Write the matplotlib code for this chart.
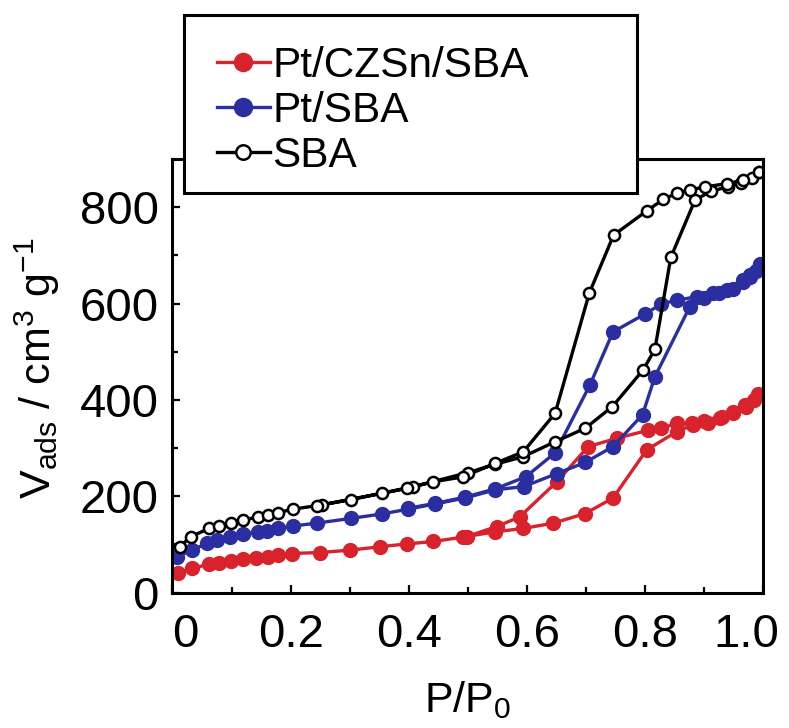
import matplotlib
matplotlib.use('Agg')
import matplotlib.pyplot as plt
import matplotlib.transforms as mtransforms
from matplotlib.patches import Rectangle
import numpy as np

plt.rcParams['font.family'] = ['Liberation Sans', 'DejaVu Sans']
plt.rcParams['mathtext.default'] = 'regular'

# SBA (open circles)
sba_ads_x = [0.012, 0.031, 0.062, 0.078, 0.099, 0.120, 0.144, 0.161, 0.179, 0.204, 0.253, 0.303,
             0.354, 0.408, 0.501, 0.546, 0.594, 0.648, 0.699, 0.745, 0.797, 0.817, 0.844, 0.885,
             0.912, 0.940, 0.962, 0.982, 0.993]
sba_ads_y = [95, 116, 133, 138, 145, 150, 157, 161, 166, 173, 182, 193,
             206, 220, 249, 266, 282, 313, 341, 386, 462, 505, 696, 815,
             833, 842, 850, 860, 872]
sba_des_x = [0.993, 0.967, 0.939, 0.902, 0.876, 0.854, 0.831, 0.804, 0.747, 0.706, 0.648, 0.594,
             0.546, 0.492, 0.442, 0.397, 0.244]
sba_des_y = [872, 856, 849, 842, 836, 829, 816, 793, 742, 622, 372, 292,
             268, 240, 230, 216, 180]

# Pt/SBA (blue)
ptsba_ads_x = [0.007, 0.033, 0.058, 0.075, 0.097, 0.120, 0.144, 0.160, 0.179, 0.204, 0.244, 0.303,
               0.354, 0.399, 0.445, 0.495, 0.546, 0.595, 0.651, 0.699, 0.746, 0.796, 0.817, 0.876,
               0.900, 0.925, 0.950, 0.967, 0.978, 0.989, 0.995]
ptsba_ads_y = [74, 88, 102, 108, 115, 121, 126, 128, 133, 138, 144, 154,
               163, 173, 184, 196, 213, 220, 247, 270, 303, 369, 448, 593,
               612, 622, 630, 645, 655, 668, 680]
ptsba_des_x = [0.995, 0.978, 0.967, 0.939, 0.916, 0.888, 0.854, 0.828, 0.800, 0.746, 0.707, 0.648,
               0.598, 0.546, 0.495, 0.445, 0.399]
ptsba_des_y = [683, 660, 649, 628, 621, 614, 607, 599, 578, 541, 431, 290,
               240, 215, 198, 185, 175]

# Pt/CZSn/SBA (red)
czsn_ads_x = [0.010, 0.033, 0.062, 0.078, 0.099, 0.120, 0.141, 0.161, 0.179, 0.202, 0.249, 0.301,
              0.351, 0.398, 0.442, 0.492, 0.546, 0.594, 0.645, 0.699, 0.746, 0.803, 0.854, 0.882,
              0.907, 0.927, 0.950, 0.972, 0.984, 0.992]
czsn_ads_y = [40, 50, 59, 62, 66, 69, 71, 74, 78, 81, 83, 88,
              95, 101, 106, 115, 126, 133, 144, 164, 196, 296, 334, 348,
              352, 362, 372, 386, 400, 410]
czsn_des_x = [0.992, 0.970, 0.950, 0.930, 0.900, 0.880, 0.854, 0.828, 0.806, 0.752, 0.704, 0.651,
              0.588, 0.549, 0.498]
czsn_des_y = [413, 390, 375, 365, 357, 352, 351, 341, 337, 320, 303, 230,
              157, 137, 116]

labels = ['Pt/CZSn/SBA', 'Pt/SBA', 'SBA']
red = '#d8222c'
blue = '#2a2ea0'

fig = plt.figure(figsize=(7.89, 7.28), dpi=100)
ax = fig.add_axes([0.2186, 0.1861, 0.7484, 0.5955])

l1, = ax.plot(czsn_ads_x + czsn_des_x, czsn_ads_y + czsn_des_y, '-o', color=red,
              lw=2.4, ms=10, mec=red, mfc=red, label=labels[0])
l2, = ax.plot(ptsba_ads_x + ptsba_des_x, ptsba_ads_y + ptsba_des_y, '-o', color=blue,
              lw=2.4, ms=10, mec=blue, mfc=blue, label=labels[1])
l3, = ax.plot(sba_ads_x + sba_des_x, sba_ads_y + sba_des_y, '-o', color='black',
              lw=2.4, ms=8, mec='black', mfc='white', mew=1.8, label=labels[2])

ax.set_xlim(0, 1.0)
ax.set_ylim(0, 900)

for s in ax.spines.values():
    s.set_linewidth(2.2)

ax.tick_params(which='both', direction='in', top=False, right=False, width=1.6, labelsize=34)
ax.tick_params(which='major', length=6)
ax.tick_params(which='minor', length=4)
ax.tick_params(axis='x', pad=14.5)
ax.tick_params(axis='y', pad=10)

ax.set_xticks([0, 0.2, 0.4, 0.6, 0.8, 1.0])
ax.set_xticklabels(['0', '0.2', '0.4', '0.6', '0.8', '1.0'])
ax.set_xticks(np.arange(0.1, 1.0, 0.2), minor=True)
ax.set_yticks([0, 200, 400, 600, 800])
ax.set_yticks([100, 300, 500, 700], minor=True)

# end labels sit slightly inside the frame
xt = ax.xaxis.get_major_ticks()
xt[0].label1.set_transform(xt[0].label1.get_transform()
                           + mtransforms.ScaledTranslation(12.5 / 100, 0, fig.dpi_scale_trans))
xt[-1].label1.set_transform(xt[-1].label1.get_transform()
                            + mtransforms.ScaledTranslation(-17 / 100, 0, fig.dpi_scale_trans))

ax.set_xlabel('P/P$_{0}$', fontsize=31)
ax.xaxis.set_label_coords(0.5, -0.2)
ax.xaxis.label.set_va('top')
ax.set_ylabel('V$_{ads}$ / cm$^{3}$ g$^{-1}$', fontsize=31)
ax.yaxis.set_label_coords(-0.187, 0.518)

# legend box hanging over the top of the axes
fig.add_artist(Rectangle((0.2332, 0.7349), 0.5741, 0.2445, transform=fig.transFigure,
                         facecolor='white', edgecolor='black', lw=2.2, zorder=2))
leg = fig.legend(handles=[l1, l2, l3], labels=labels, loc='upper left',
                 bbox_to_anchor=(0.275, 0.937), frameon=False, fontsize=30.5,
                 handlelength=1.25, handletextpad=0.06, labelspacing=0.12,
                 borderpad=0, borderaxespad=0, numpoints=1, markerscale=1.3)
leg.set_zorder(3)

fig.savefig('out.png', dpi=100)
